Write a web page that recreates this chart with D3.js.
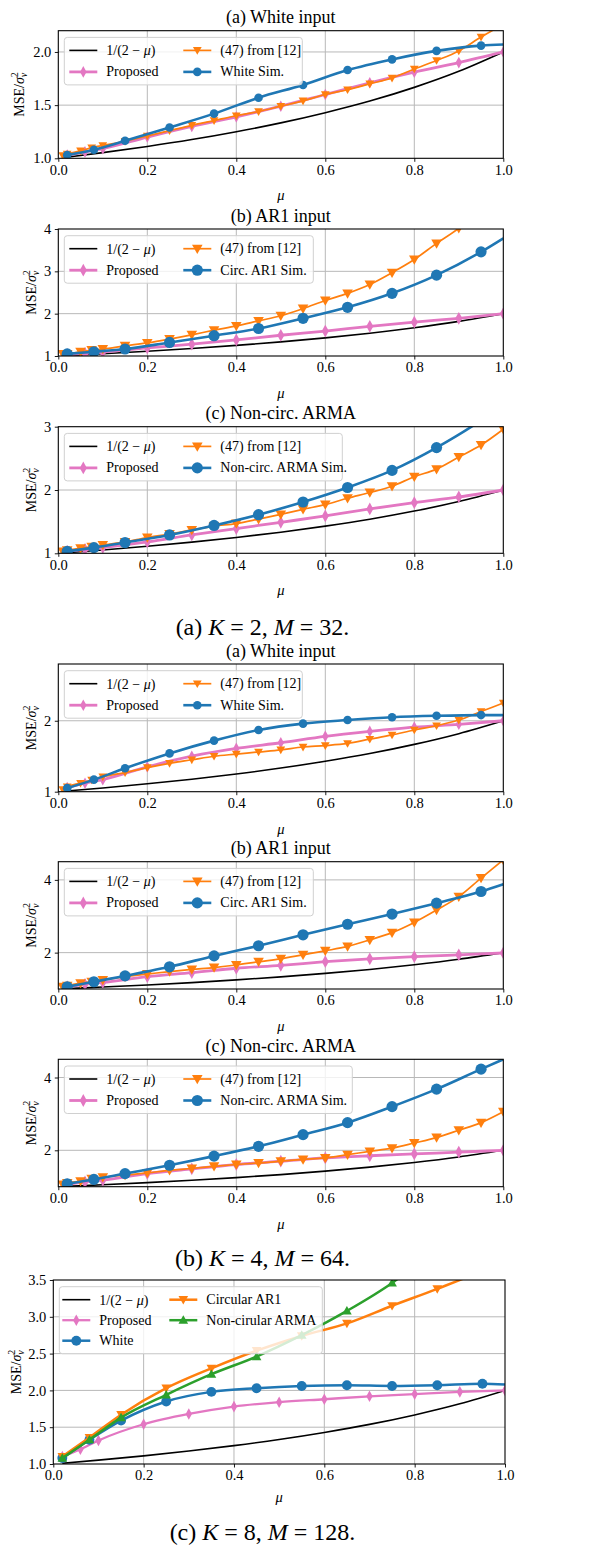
<!DOCTYPE html>
<html>
<head>
<meta charset="utf-8">
<script src="https://cdn.jsdelivr.net/npm/d3@7"></script>
<style>
  body { margin: 0; background: #fff; }
  text { font-family: "Liberation Serif", "DejaVu Serif", serif; fill: #000; }
</style>
</head>
<body>
<div id="container"></div>
<script>
// step sizes (x values) used by the different curves
const muBound = [0.02, 0.1, 0.2, 0.3, 0.4, 0.5, 0.6, 0.7, 0.8, 0.9, 1.0];
const muProposed = [0.02, 0.06, 0.1, 0.2, 0.3, 0.4, 0.5, 0.6, 0.7, 0.8, 0.9, 1.0];
const mu47 = [0.01, 0.02, 0.05, 0.075, 0.1, 0.15, 0.2, 0.25, 0.3, 0.35, 0.4, 0.45,
  0.5, 0.55, 0.6, 0.65, 0.7, 0.75, 0.8, 0.85, 0.9, 0.95, 1.0];
const muSim = [0.02, 0.08, 0.15, 0.25, 0.35, 0.45, 0.55, 0.65, 0.75, 0.85, 0.95, 1.0];

// 1/(2 - mu)
const bound = [1.01, 1.053, 1.111, 1.176, 1.25, 1.333, 1.429, 1.538, 1.667, 1.818, 2.0];

// K = 2, M = 32
const k2WhiteProposed = [1.03, 1.06, 1.09, 1.20, 1.30, 1.39, 1.49, 1.60, 1.71, 1.81, 1.90, 2.00];
const k2White47 = [1.025, 1.04, 1.07, 1.10, 1.12, 1.16, 1.21, 1.26, 1.31, 1.355, 1.40, 1.44,
  1.49, 1.54, 1.60, 1.645, 1.70, 1.755, 1.84, 1.92, 2.01, 2.14, 2.26];
const k2WhiteSim = [1.03, 1.08, 1.165, 1.29, 1.42, 1.57, 1.69, 1.83, 1.93, 2.01, 2.06, 2.07];

const k2Ar1Proposed = [1.03, 1.06, 1.09, 1.19, 1.28, 1.38, 1.49, 1.59, 1.70, 1.80, 1.89, 2.00];
const k2Ar147 = [1.05, 1.05, 1.10, 1.14, 1.165, 1.24, 1.31, 1.40, 1.50, 1.61, 1.71, 1.83,
  1.95, 2.12, 2.31, 2.48, 2.69, 2.97, 3.28, 3.66, 4.02, 4.5, 5.0];
const k2Ar1Sim = [1.05, 1.10, 1.165, 1.32, 1.48, 1.65, 1.89, 2.15, 2.48, 2.91, 3.46, 3.78];

const k2ArmaProposed = [1.03, 1.06, 1.09, 1.18, 1.29, 1.39, 1.49, 1.59, 1.70, 1.80, 1.89, 2.00];
const k2Arma47 = [1.03, 1.05, 1.08, 1.105, 1.13, 1.18, 1.25, 1.305, 1.37, 1.43, 1.47, 1.54,
  1.615, 1.695, 1.77, 1.87, 1.96, 2.06, 2.21, 2.33, 2.52, 2.71, 2.96];
const k2ArmaSim = [1.03, 1.09, 1.17, 1.29, 1.44, 1.61, 1.81, 2.04, 2.31, 2.67, 3.1, 3.35];

// K = 4, M = 64
const k4WhiteProposed = [1.06, 1.12, 1.17, 1.35, 1.50, 1.61, 1.69, 1.78, 1.85, 1.91, 1.95, 2.00];
const k4White47 = [1.03, 1.07, 1.12, 1.165, 1.21, 1.27, 1.34, 1.40, 1.45, 1.50, 1.53, 1.56,
  1.59, 1.63, 1.65, 1.68, 1.74, 1.80, 1.87, 1.93, 2.01, 2.13, 2.25];
const k4WhiteSim = [1.05, 1.17, 1.33, 1.54, 1.72, 1.87, 1.96, 2.01, 2.05, 2.07, 2.08, 2.08];

const k4Ar1Proposed = [1.06, 1.13, 1.18, 1.34, 1.45, 1.57, 1.65, 1.75, 1.83, 1.89, 1.94, 1.99];
const k4Ar147 = [1.06, 1.09, 1.16, 1.20, 1.25, 1.34, 1.41, 1.48, 1.54, 1.59, 1.66, 1.75,
  1.83, 1.94, 2.05, 2.17, 2.35, 2.55, 2.83, 3.17, 3.54, 4.05, 4.55];
const k4Ar1Sim = [1.06, 1.20, 1.36, 1.61, 1.91, 2.19, 2.49, 2.78, 3.06, 3.36, 3.68, 3.88];

const k4ArmaProposed = [1.06, 1.13, 1.18, 1.36, 1.49, 1.61, 1.70, 1.79, 1.85, 1.90, 1.95, 2.00];
const k4Arma47 = [1.06, 1.10, 1.15, 1.22, 1.26, 1.32, 1.38, 1.45, 1.50, 1.56, 1.61, 1.65,
  1.70, 1.75, 1.79, 1.88, 1.97, 2.06, 2.20, 2.35, 2.55, 2.76, 3.06];
const k4ArmaSim = [1.08, 1.20, 1.36, 1.59, 1.84, 2.11, 2.43, 2.76, 3.20, 3.68, 4.23, 4.50];

// K = 8, M = 128
const k8Proposed = [1.10, 1.20, 1.32, 1.54, 1.68, 1.78, 1.84, 1.88, 1.92, 1.95, 1.98, 2.00];
const k8White = [1.08, 1.33, 1.59, 1.85, 1.98, 2.03, 2.06, 2.07, 2.06, 2.07, 2.09, 2.08];
const k8Ar1 = [1.10, 1.36, 1.67, 2.03, 2.30, 2.54, 2.74, 2.91, 3.15, 3.38, 3.63, 3.78];
const k8Arma = [1.08, 1.33, 1.63, 1.94, 2.22, 2.46, 2.75, 3.08, 3.46, 3.95, 4.45, 4.70];

const xTicks = [0, 0.2, 0.4, 0.6, 0.8, 1.0];

const blue = "#1f77b4", orange = "#ff7f0e", green = "#2ca02c", pink = "#e377c2";

function boundSeries() {
  return { mu: muBound, v: bound, label: "bound", color: "#000", lw: 1.6, marker: null };
}
function propSeries(v, big) {
  return { mu: muProposed, v, label: "Proposed", color: pink, lw: 2.8, marker: "thin", ms: big ? 1.1 : 1 };
}
function eqSeries(v, big) {
  return { mu: mu47, v, label: "(47) from [12]", color: orange, lw: 1.7, marker: "tridown", ms: big ? 1.15 : 0.95 };
}
function simSeries(v, label, big) {
  return { mu: muSim, v, label, color: blue, lw: 2.6, marker: "circle", ms: big ? 1.3 : 1, skipLast: true };
}

const panels = [
  { title: "(a) White input", top: 30.7, bottom: 158.3, left: 58.3, right: 503.3, y: [1, 2.2], yTicks: [1, 1.5, 2], fmt: ".1f", ylx: 19,
    legW: 238, series: [boundSeries(), propSeries(k2WhiteProposed, false), eqSeries(k2White47, false), simSeries(k2WhiteSim, "White Sim.", false)] },
  { title: "(b) AR1 input", top: 229, bottom: 356, left: 58.3, right: 503.3, y: [1, 4], yTicks: [1, 2, 3, 4], fmt: "d", ylx: 31,
    legW: 249, series: [boundSeries(), propSeries(k2Ar1Proposed, true), eqSeries(k2Ar147, true), simSeries(k2Ar1Sim, "Circ. AR1 Sim.", true)] },
  { title: "(c) Non-circ. ARMA", top: 426.7, bottom: 553.3, left: 58.3, right: 503.3, y: [1, 3], yTicks: [1, 2, 3], fmt: "d", ylx: 31,
    legW: 278, series: [boundSeries(), propSeries(k2ArmaProposed, true), eqSeries(k2Arma47, true), simSeries(k2ArmaSim, "Non-circ. ARMA Sim.", true)] },
  { title: "(a) White input", top: 664, bottom: 791.7, left: 58.3, right: 503.3, y: [1, 2.8], yTicks: [1, 2], fmt: "d", ylx: 31,
    legW: 238, series: [boundSeries(), propSeries(k4WhiteProposed, false), eqSeries(k4White47, false), simSeries(k4WhiteSim, "White Sim.", false)] },
  { title: "(b) AR1 input", top: 861.7, bottom: 989, left: 58.3, right: 503.3, y: [1, 4.5], yTicks: [2, 4], fmt: "d", ylx: 31,
    legW: 249, series: [boundSeries(), propSeries(k4Ar1Proposed, true), eqSeries(k4Ar147, true), simSeries(k4Ar1Sim, "Circ. AR1 Sim.", true)] },
  { title: "(c) Non-circ. ARMA", top: 1059.3, bottom: 1186.7, left: 58.3, right: 503.3, y: [1, 4.5], yTicks: [2, 4], fmt: "d", ylx: 31,
    legW: 288, series: [boundSeries(), propSeries(k4ArmaProposed, true), eqSeries(k4Arma47, true), simSeries(k4ArmaSim, "Non-circ. ARMA Sim.", true)] },
  { title: null, top: 1280, bottom: 1464, left: 53.3, right: 505, y: [1, 3.5], yTicks: [1, 1.5, 2, 2.5, 3, 3.5], fmt: ".1f", ylx: 16,
    legW: 263, threeRows: true, series: [
      { mu: muBound, v: bound, label: "bound", color: "#000", lw: 1.6, marker: null },
      { mu: muProposed, v: k8Proposed, label: "Proposed", color: pink, lw: 2.3, marker: "thin", ms: 1 },
      { mu: muSim, v: k8White, label: "White", color: blue, lw: 2.5, marker: "circle", ms: 1.15, skipLast: true },
      { mu: muSim, v: k8Ar1, label: "Circular AR1", color: orange, lw: 2.5, marker: "tridown", ms: 1.05, skipLast: true },
      { mu: muSim, v: k8Arma, label: "Non-cirular ARMA", color: green, lw: 2.5, marker: "triup", ms: 1.05, skipLast: true }
    ] }
];

const captions = [
  { y: 626.7, pre: "(a) ", k: "2", m: "32." },
  { y: 1257.5, pre: "(b) ", k: "4", m: "64." },
  { y: 1531.7, pre: "(c) ", k: "8", m: "128." }
];

const svg = d3.select("#container").append("svg")
  .attr("width", 606).attr("height", 1545)
  .style("display", "block");

function markerPath(type, s) {
  if (type === "circle") {
    const r = 4.3 * s;
    return `M${r},0A${r},${r} 0 1,1 ${-r},0A${r},${r} 0 1,1 ${r},0Z`;
  }
  if (type === "tridown") {
    const w = 4.6 * s, h = 4.6 * s;
    return `M${-w},${-h * 0.75}L${w},${-h * 0.75}L0,${h}Z`;
  }
  if (type === "triup") {
    const w = 4.6 * s, h = 4.6 * s;
    return `M${-w},${h * 0.75}L${w},${h * 0.75}L0,${-h}Z`;
  }
  // thin diamond
  const w = 3.2 * s, h = 5.8 * s;
  return `M0,${-h}L${w},0L0,${h}L${-w},0Z`;
}

function boundLabel(t) {
  t.append("tspan").text("1/(2 \u2212 ");
  t.append("tspan").attr("font-style", "italic").text("\u03bc");
  t.append("tspan").text(")");
}

panels.forEach((p, i) => {
  const g = svg.append("g");
  const x = d3.scaleLinear().domain([0, 1]).range([p.left, p.right]);
  const y = d3.scaleLinear().domain(p.y).range([p.bottom, p.top]);
  const small = p.threeRows;

  // grid
  g.append("g").selectAll("line").data(xTicks.slice(1, -1)).join("line")
    .attr("x1", d => x(d)).attr("x2", d => x(d)).attr("y1", p.top).attr("y2", p.bottom)
    .attr("stroke", "#b8b8b8").attr("stroke-width", 1);
  g.append("g").selectAll("line").data(p.yTicks.filter(d => d > p.y[0] && d < p.y[1])).join("line")
    .attr("x1", p.left).attr("x2", p.right).attr("y1", d => y(d)).attr("y2", d => y(d))
    .attr("stroke", "#b8b8b8").attr("stroke-width", 1);

  // clip
  const clipId = "clip" + i;
  svg.append("clipPath").attr("id", clipId).append("rect")
    .attr("x", p.left).attr("y", p.top).attr("width", p.right - p.left).attr("height", p.bottom - p.top);
  const plot = g.append("g").attr("clip-path", `url(#${clipId})`);

  const line = d3.line().x(d => x(d[0])).y(d => y(d[1])).curve(d3.curveMonotoneX);
  p.series.forEach(s => {
    const pts = s.mu.map((m, j) => [m, s.v[j]]);
    plot.append("path").attr("d", line(pts)).attr("fill", "none")
      .attr("stroke", s.color).attr("stroke-width", s.lw).attr("stroke-linejoin", "round");
    if (s.marker) {
      const mp = s.skipLast ? pts.slice(0, -1) : pts;
      plot.append("g").selectAll("path").data(mp).join("path")
        .attr("transform", d => `translate(${x(d[0])},${y(d[1])})`)
        .attr("d", markerPath(s.marker, s.ms)).attr("fill", s.color);
    }
  });

  // frame
  g.append("rect").attr("x", p.left).attr("y", p.top)
    .attr("width", p.right - p.left).attr("height", p.bottom - p.top)
    .attr("fill", "none").attr("stroke", "#000").attr("stroke-width", 1.1);

  // axes
  const fs = 14.5;
  const xa = g.append("g").attr("transform", `translate(0,${p.bottom})`)
    .call(d3.axisBottom(x).tickValues(xTicks).tickFormat(d3.format(".1f")).tickSize(3.5).tickPadding(2.5));
  const ya = g.append("g").attr("transform", `translate(${p.left},0)`)
    .call(d3.axisLeft(y).tickValues(p.yTicks).tickFormat(d3.format(p.fmt)).tickSize(3.5).tickPadding(3.5));
  [xa, ya].forEach(a => {
    a.select(".domain").remove();
    a.selectAll("line").attr("stroke", "#000").attr("stroke-width", 0.9);
    a.selectAll("text").attr("font-size", fs).attr("font-family", "Liberation Serif");
  });

  // title and labels
  if (p.title) {
    g.append("text").attr("x", (p.left + p.right) / 2).attr("y", p.top - 13.5)
      .attr("text-anchor", "middle").attr("dominant-baseline", "central")
      .attr("font-size", 18).text(p.title);
  }
  g.append("text").attr("x", (p.left + p.right) / 2).attr("y", p.bottom + (small ? 33 : 37))
    .attr("text-anchor", "middle").attr("dominant-baseline", "central")
    .attr("font-size", 14.5).attr("font-style", "italic").text("\u03bc");

  const yl = g.append("text")
    .attr("transform", `translate(${p.ylx},${(p.top + p.bottom) / 2}) rotate(-90)`)
    .attr("text-anchor", "middle").attr("dominant-baseline", "central").attr("font-size", 14);
  yl.append("tspan").text("MSE/");
  yl.append("tspan").attr("font-style", "italic").text("\u03c3");
  yl.append("tspan").attr("font-size", 10).attr("dy", -5).text("2");
  yl.append("tspan").attr("font-size", 10).attr("font-style", "italic").attr("dx", -5).attr("dy", 8.5).text("v");

  // legend
  const lx = p.left + 6, ly = p.top + 6.7;
  const rows = small ? 3 : 2;
  const rowH = small ? 20.5 : 21.5;
  const first = 13;
  const lg = g.append("g");
  lg.append("rect").attr("x", lx).attr("y", ly).attr("width", p.legW)
    .attr("height", first + rowH * (rows - 1) + 13).attr("rx", 3)
    .attr("fill", "#fff").attr("fill-opacity", 0.8).attr("stroke", "#d0d0d0").attr("stroke-width", 1);
  const col2 = small ? 112 : 119;
  p.series.forEach((s, j) => {
    const col = j < rows ? 0 : 1;
    const row = j < rows ? j : j - rows;
    const x0 = lx + (col ? col2 : 5) - (small ? 2 : 0);
    const yy = ly + first + row * rowH;
    lg.append("line").attr("x1", x0).attr("x2", x0 + 28).attr("y1", yy).attr("y2", yy)
      .attr("stroke", s.color).attr("stroke-width", s.lw);
    if (s.marker) {
      lg.append("path").attr("transform", `translate(${x0 + 14},${yy})`)
        .attr("d", markerPath(s.marker, s.ms)).attr("fill", s.color);
    }
    const t = lg.append("text").attr("x", x0 + 37).attr("y", yy)
      .attr("dominant-baseline", "central").attr("font-size", 14);
    if (s.label === "bound") boundLabel(t); else t.text(s.label);
  });
});

captions.forEach(c => {
  const t = svg.append("text").attr("x", 262.5).attr("y", c.y)
    .attr("text-anchor", "middle").attr("dominant-baseline", "central").attr("font-size", 24);
  t.append("tspan").text(c.pre);
  t.append("tspan").attr("font-style", "italic").text("K");
  t.append("tspan").text(" = " + c.k + ", ");
  t.append("tspan").attr("font-style", "italic").text("M");
  t.append("tspan").text(" = " + c.m);
});
</script>
</body>
</html>
